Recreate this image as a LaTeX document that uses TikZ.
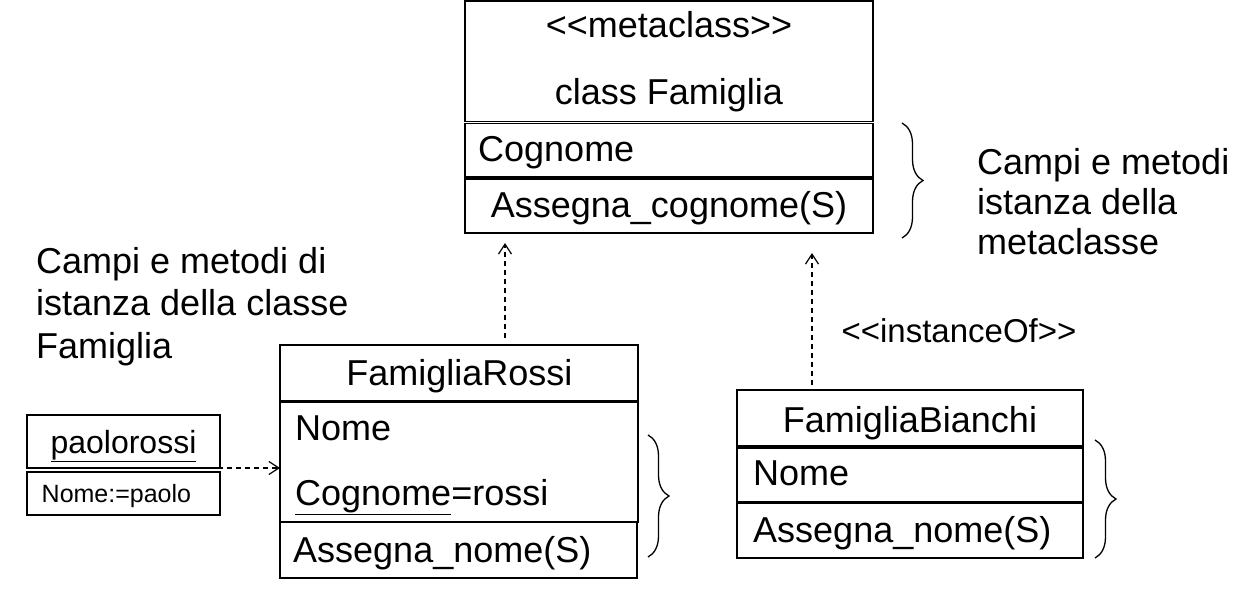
\documentclass[tikz,border=0pt]{standalone}
\usepackage{fontspec}
\setmainfont{Liberation Sans}
\usetikzlibrary{arrows.meta}
\usetikzlibrary{decorations.pathreplacing}
\newcommand{\ltlt}{<\kern0pt<}
\newcommand{\gtgt}{>\kern0pt>}

\begin{document}
\begin{tikzpicture}[x=1pt, y=-1pt,
		compartment/.style={draw, line width=1.4pt, inner sep=0pt, outer sep=0pt, anchor=north west},
		umltext/.style={inner sep=0pt, font=\fontsize{36}{42}\selectfont},
		dependency/.style={line width=1.2pt, dash pattern=on 5pt off 4pt, -{Straight Barb[length=10pt, width=13pt]}},
		sidebrace/.style={decorate, decoration={brace, amplitude=21pt}, line width=1.3pt}]
		\useasboundingbox (0,0) rectangle (1245,612);
		\begin{scope}
			% metaclass
			\node [compartment, minimum width=408, minimum height=120.5] (meta-head) at (465,1) {};
			\node [compartment, minimum width=408, minimum height=53.5] (meta-attr) at (465,123.5) {};
			\node [compartment, minimum width=408, minimum height=54] (meta-ops) at (465,179) {};
			%
			\node (meta-stereo) [umltext, anchor=base] at (669,38) {\ltlt metaclass\gtgt};
			\node (meta-name) [umltext, anchor=base] at (669,105) {class Famiglia};
			\node (meta-field) [umltext, anchor=base west] at (478,162) {Cognome};
			\node (meta-method) [umltext, anchor=base] at (669,218) {Assegna\_cognome(S)};
			%
			\draw [sidebrace] (902,123) -- (902,238);
			\node (meta-note) [umltext, font=\fontsize{36}{40}\selectfont, align=left, anchor=base west] at (977,255) {Campi e metodi\\istanza della\\metaclasse};
		\end{scope}
		\begin{scope}
			% FamigliaRossi
			\node [compartment, minimum width=358, minimum height=56] (rossi-head) at (280,345) {};
			\node [compartment, minimum width=358, minimum height=119.5] (rossi-attr) at (280,402.5) {};
			\node [compartment, minimum width=357, minimum height=56] (rossi-ops) at (280,522) {};
			%
			\node (rossi-name) [umltext, anchor=base] at (459.5,385) {FamigliaRossi};
			\node (rossi-field1) [umltext, anchor=base west] at (295,440) {Nome};
			\node (rossi-field2) [umltext, anchor=base west] at (295,505) {\underline{Cognome}=rossi};
			\node (rossi-method) [umltext, anchor=base west] at (293,562) {Assegna\_nome(S)};
			%
			\draw [sidebrace] (648,435) -- (648,557);
			\node (rossi-note) [umltext, font=\fontsize{36}{42.5}\selectfont, align=left, anchor=base west] at (36,358) {Campi e metodi di\\istanza della classe\\Famiglia};
		\end{scope}
		\begin{scope}
			% FamigliaBianchi
			\node [compartment, minimum width=346, minimum height=56] (bianchi-head) at (737,390) {};
			\node [compartment, minimum width=346, minimum height=54] (bianchi-attr) at (737,448) {};
			\node [compartment, minimum width=346, minimum height=54.5] (bianchi-ops) at (737,503.5) {};
			%
			\node (bianchi-name) [umltext, anchor=base] at (910,432) {FamigliaBianchi};
			\node (bianchi-field) [umltext, anchor=base west] at (753,485) {Nome};
			\node (bianchi-method) [umltext, anchor=base west] at (753,542) {Assegna\_nome(S)};
			%
			\draw [sidebrace] (1095,440) -- (1095,558);
		\end{scope}
		\begin{scope}
			% paolorossi
			\node [compartment, minimum width=193, minimum height=53] (paolo-name) at (27,415) {};
			\node [compartment, minimum width=193, minimum height=43] (paolo-slots) at (27,472) {};
			%
			\node (paolo-label) [inner sep=0pt, font=\fontsize{32}{38}\selectfont, anchor=base] at (123.5,453) {\underline{paolorossi}};
			\node (paolo-value) [inner sep=0pt, font=\fontsize{25}{30}\selectfont, anchor=base west] at (41.5,502) {Nome:=paolo};
		\end{scope}
		% dependencies
		\path ([xshift=46]rossi-head.north) coordinate (rossi-up);
		\path ([xshift=75]bianchi-head.north west) coordinate (bianchi-up);
		\draw [dependency, shorten <=7pt, shorten >=10pt] (rossi-up) -- (rossi-up |- meta-ops.south);
		\draw [dependency, shorten <=5pt, shorten >=20pt] (bianchi-up) -- (bianchi-up |- meta-ops.south);
		\draw [dependency] ([xshift=-20]paolo-name.south east) -- (rossi-attr.west |- paolo-name.south east);
		\node (instance-label) [inner sep=0pt, font=\fontsize{33}{38}\selectfont, anchor=base] at (959,342) {\ltlt instanceOf\gtgt};
	\end{tikzpicture}
\end{document}
